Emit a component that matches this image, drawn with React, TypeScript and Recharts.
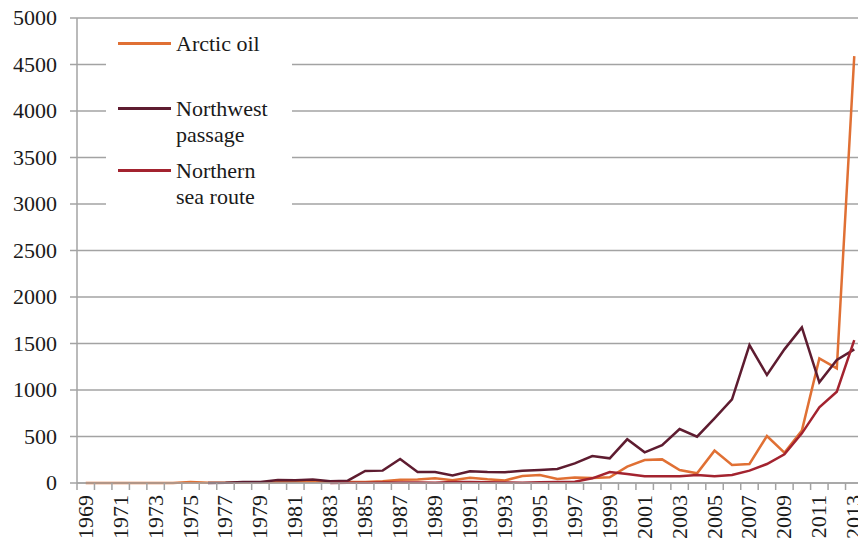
import { LineChart, Line, XAxis, YAxis, CartesianGrid } from 'recharts';

const YEARS = [
  '1969', '1970', '1971', '1972', '1973', '1974', '1975', '1976', '1977', '1978',
  '1979', '1980', '1981', '1982', '1983', '1984', '1985', '1986', '1987', '1988',
  '1989', '1990', '1991', '1992', '1993', '1994', '1995', '1996', '1997', '1998',
  '1999', '2000', '2001', '2002', '2003', '2004', '2005', '2006', '2007', '2008',
  '2009', '2010', '2011', '2012', '2013',
];

const ARCTIC_OIL = [
  0, 0, 0, 0, 0, 0, 10, 2, 3, 5,
  8, 12, 15, 20, 10, 12, 10, 18, 35, 38,
  50, 30, 57, 40, 28, 75, 86, 43, 60, 54,
  61, 176, 247, 254, 140, 104, 348, 193, 204, 505,
  326, 563, 1340, 1233, 4590,
];

const NORTHWEST_PASSAGE = [
  null, null, null, null, null, null, null, 0, 2, 10,
  10, 32, 30, 37, 20, 25, 129, 133, 258, 118,
  118, 82, 125, 117, 115, 133, 140, 150, 211, 290,
  265, 470, 330, 408, 580, 498, 695, 900, 1483, 1161,
  1437, 1673, 1082, 1322, 1437,
];

const NORTHERN_SEA_ROUTE = [
  null, null, null, null, null, null, null, null, null, null,
  null, null, null, null, 0, 2, 3, 5, 5, 5,
  3, 10, 10, 8, 5, 3, 8, 10, 14, 50,
  118, 97, 72, 72, 72, 86, 72, 86, 133, 204,
  308, 534, 814, 982, 1537,
];

const Y_TICKS = [0, 500, 1000, 1500, 2000, 2500, 3000, 3500, 4000, 4500, 5000];

const SERIES = [
  { key: 'arctic', name: ['Arctic oil'], color: '#E07034' },
  { key: 'northwest', name: ['Northwest', 'passage'], color: '#5E1C30' },
  { key: 'northern', name: ['Northern', 'sea route'], color: '#A3232F' },
];

const data = YEARS.map((year, i) => ({
  year,
  arctic: ARCTIC_OIL[i],
  northwest: NORTHWEST_PASSAGE[i],
  northern: NORTHERN_SEA_ROUTE[i],
}));

const FONT = 'Liberation Serif';
const CHART_W = 870;
const CHART_H = 543;
const Y_AXIS_W = 77;
const MARGIN = { top: 18, right: 7, left: 0, bottom: 0 };
const BAND = (CHART_W - Y_AXIS_W - MARGIN.right) / YEARS.length;
const GRID = '#a3a3a3';
const INK = '#1a1a1a';

function YearTick(props: any) {
  const { x, y, payload, index } = props;
  const lx = x - BAND / 2;
  return (
    <g>
      <line x1={lx} x2={lx} y1={y} y2={y + 7} stroke={GRID} strokeWidth={1.5} />
      {index % 2 === 0 && (
        <text
          transform={`translate(${x + 7},${y + 12}) rotate(-90)`}
          textAnchor="end"
          fontFamily={FONT}
          fontSize={22}
          fill={INK}
        >
          {payload.value}
        </text>
      )}
    </g>
  );
}

function ValueTick(props: any) {
  const { x, y, payload } = props;
  return (
    <text x={x} y={y} dy={7} textAnchor="end" fontFamily={FONT} fontSize={22} fill={INK}>
      {payload.value}
    </text>
  );
}

function ChartLegend() {
  return (
    <div
      style={{
        position: 'absolute',
        left: 106,
        top: 24,
        width: 186,
        height: 186,
        background: '#fff',
        fontFamily: FONT,
        fontSize: 22,
        color: INK,
        lineHeight: '26px',
      }}
    >
      {SERIES.map((s, i) => (
        <div key={s.key} style={{ position: 'absolute', left: 12, top: [7, 72, 134][i], display: 'flex' }}>
          <span style={{ width: 53, height: 3, background: s.color, marginTop: 11, marginRight: 5 }} />
          <span>
            {s.name.map((n) => (
              <div key={n}>{n}</div>
            ))}
          </span>
        </div>
      ))}
    </div>
  );
}

export default function App() {
  return (
    <div style={{ position: 'absolute', left: 0, top: 0, width: 858, height: 543, overflow: 'hidden', background: '#fff', fontFamily: FONT }}>
      <LineChart width={CHART_W} height={CHART_H} data={data} margin={MARGIN}>
        <CartesianGrid horizontal vertical={false} stroke={GRID} strokeWidth={1.5} />
        <XAxis
          dataKey="year"
          interval={0}
          height={60}
          padding={{ left: BAND / 2, right: BAND / 2 }}
          tickLine={false}
          tickSize={0}
          tickMargin={0}
          tick={<YearTick />}
          axisLine={{ stroke: GRID, strokeWidth: 1.5 }}
        />
        <YAxis
          domain={[0, 5000]}
          ticks={Y_TICKS}
          width={Y_AXIS_W}
          tickSize={7}
          tickMargin={13}
          tickLine={{ stroke: GRID, strokeWidth: 1.5 }}
          axisLine={{ stroke: GRID, strokeWidth: 1.5 }}
          tick={<ValueTick />}
        />
        {SERIES.map((s) => (
          <Line
            key={s.key}
            type="linear"
            dataKey={s.key}
            stroke={s.color}
            strokeWidth={2.5}
            dot={false}
            isAnimationActive={false}
          />
        ))}
      </LineChart>
      <ChartLegend />
    </div>
  );
}
